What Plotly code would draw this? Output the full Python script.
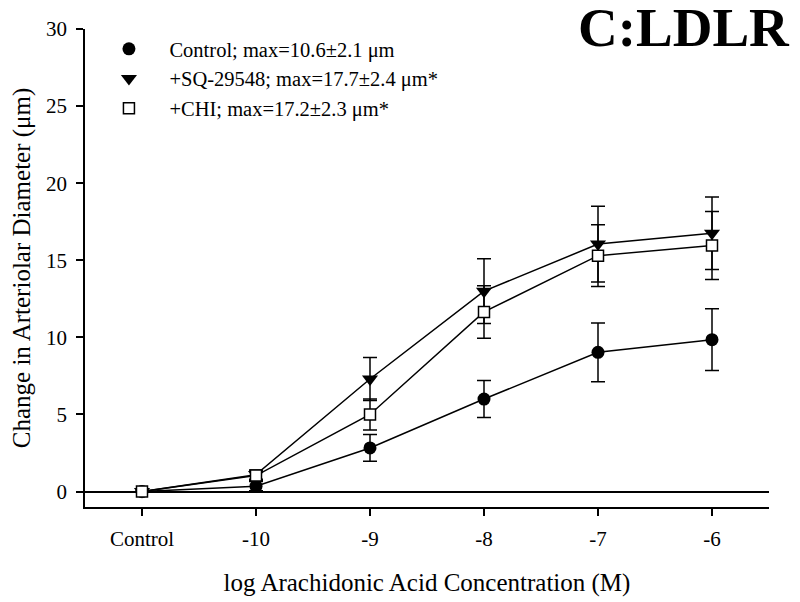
import plotly.graph_objects as go

categories = ["Control", "-10", "-9", "-8", "-7", "-6"]

control_vals = [0.0, 0.35, 2.83, 6.0, 9.03, 9.85]
control_err = [0.0, 0.3, 0.87, 1.2, 1.9, 2.0]

sq_vals = [0.0, 1.1, 7.3, 13.0, 16.05, 16.76]
sq_err = [0.0, 0.3, 1.4, 2.1, 2.45, 2.35]

chi_vals = [0.0, 1.04, 5.0, 11.65, 15.3, 15.96]
chi_err = [0.0, 0.3, 1.0, 1.7, 2.0, 2.2]

names = [
    "Control; max=10.6\u00b12.1 \u03bcm",
    "+SQ-29548; max=17.7\u00b12.4 \u03bcm*",
    "+CHI; max=17.2\u00b12.3 \u03bcm*",
]

FONT = "Liberation Serif, Times New Roman, serif"
pad = "\u00a0" * 4

series = [
    (control_vals, control_err, dict(symbol="circle", size=13, color="black", line=dict(width=0))),
    (sq_vals, sq_err, dict(symbol="triangle-down", size=14, color="black", line=dict(width=0))),
    (chi_vals, chi_err, dict(symbol="square", size=11, color="white", line=dict(width=1.5, color="black"))),
]

fig = go.Figure()
for (vals, err, mk), nm in zip(series, names):
    fig.add_trace(go.Scatter(
        x=categories, y=vals, mode="lines+markers",
        line=dict(color="black", width=1.5),
        marker=mk,
        error_y=dict(type="data", array=err, visible=True, color="black", thickness=1.5, width=7),
        showlegend=False,
    ))
for (vals, err, mk), i, nm in zip(series, range(3), names):
    fig.add_trace(go.Scatter(
        x=[None], y=[None], mode="markers", marker=mk,
        name=pad + nm, legendgroup=f"g{i}", showlegend=True,
    ))

fig.update_layout(
    width=792, height=594,
    margin=dict(l=77, r=31, t=21, b=95, autoexpand=False),
    paper_bgcolor="white", plot_bgcolor="white",
    font=dict(family=FONT, color="black", size=21),
    showlegend=True,
    legend=dict(
        x=0.035, y=1.0, xanchor="left", yanchor="top",
        bgcolor="rgba(0,0,0,0)", borderwidth=0,
        font=dict(family=FONT, size=20.5, color="black"),
        tracegroupgap=0, traceorder="normal",
    ),
    xaxis=dict(
        type="category", categoryorder="array", categoryarray=categories,
        range=[-0.5, 5.5], automargin=False,
        showline=True, linecolor="black", linewidth=1.5,
        ticks="outside", ticklen=7, tickwidth=1.5, tickcolor="black",
        ticklabelstandoff=5,
        showgrid=False, zeroline=False,
        tickfont=dict(family=FONT, size=21, color="black"),
        title=dict(text="log Arachidonic Acid Concentration (M)",
                   font=dict(family=FONT, size=25, color="black"), standoff=24),
    ),
    yaxis=dict(
        range=[-1, 30], automargin=False,
        tickvals=[0, 5, 10, 15, 20, 25, 30],
        showline=True, linecolor="black", linewidth=1.5,
        ticks="outside", ticklen=7, tickwidth=1.5, tickcolor="black",
        ticklabelstandoff=5,
        showgrid=False,
        zeroline=True, zerolinecolor="black", zerolinewidth=1.5,
        tickfont=dict(family=FONT, size=21, color="black"),
        title=dict(text="Change in Arteriolar Diameter (\u03bcm)",
                   font=dict(family=FONT, size=25, color="black"), standoff=13),
    ),
    annotations=[dict(
        text="<b>C:LDLR</b>", xref="paper", yref="paper",
        x=1.033, y=1.003, xanchor="right", yanchor="middle",
        showarrow=False, font=dict(family=FONT, size=55, color="black"),
    )],
)

fig.write_html("out.html")
